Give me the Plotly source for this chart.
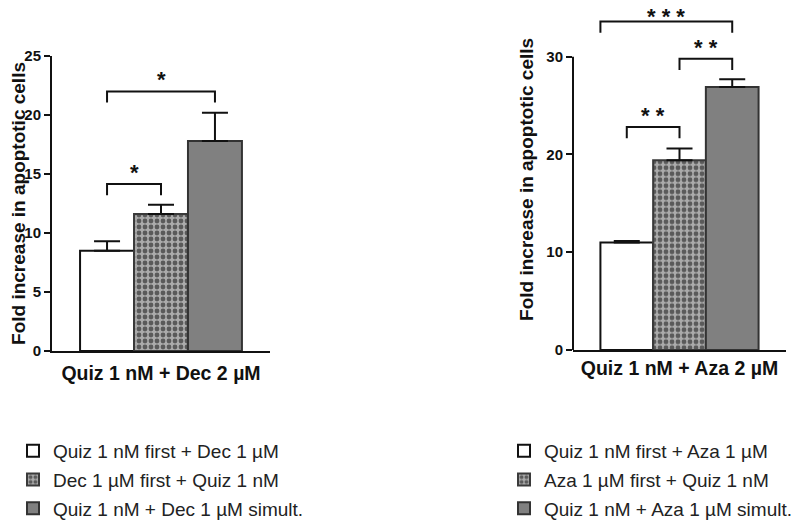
import plotly.graph_objects as go

# ---------------- data ----------------
left_names = ["Quiz 1 nM first + Dec 1 µM", "Dec 1 µM first + Quiz 1 nM", "Quiz 1 nM + Dec 1 µM simult."]
left_means = [8.5, 11.6, 17.8]
left_err = [0.8, 0.8, 2.4]
left_xtitle = "Quiz 1 nM + Dec 2 µM"
left_ticks = [0, 5, 10, 15, 20, 25]

right_names = ["Quiz 1 nM first + Aza 1 µM", "Aza 1 µM first + Quiz 1 nM", "Quiz 1 nM + Aza 1 µM simult."]
right_means = [11.0, 19.4, 26.9]
right_err = [0.15, 1.2, 0.8]
right_xtitle = "Quiz 1 nM + Aza 2 µM"
right_ticks = [0, 10, 20, 30]

ytitle = "Fold increase in apoptotic cells"
bar_pos = [1, 2, 3]

# brackets: (x_start, x_end, height, label, label offset above bracket)
left_brackets = [(1, 2, 14.15, "*", 1.0), (1, 3, 22.0, "*", 1.0)]
right_brackets = [(1, 2, 22.8, "* *", 1.15), (2, 3, 29.8, "* *", 1.15), (0.5, 3, 33.6, "* * *", 0.55)]

# ---------------- layout geometry ----------------
# page body has an 8px margin; figure is sized to fill the rest of the 800x521 window
OFF = 8
W, H = 800 - OFF, 521 - OFF
def px_x(p):
    return (p - OFF) / W
def px_y(p):
    return 1 - (p - OFF) / H

R_TOP = 34.9                 # right data axis extends above its drawn 0-30 line
R_SCALE = (350 - 56.7) / 30  # px per unit on the right chart

fills = ["white", "#9a9a9a", "#808080"]
lines = ["#111111", "#3a3a3a", "#333333"]

fig = go.Figure()

def add_bars(names, means, errs, xa, ya, legend):
    for i, (n, m, e) in enumerate(zip(names, means, errs)):
        marker = dict(color=fills[i], line=dict(color=lines[i], width=2))
        if i == 1:
            marker["pattern"] = dict(shape=".", fgcolor="#5a5a5a", bgcolor="#ababab",
                                     size=6, solidity=0.5, fillmode="replace")
        fig.add_trace(go.Bar(
            x=[bar_pos[i]], y=[m], width=1.0, name=n, marker=marker,
            error_y=dict(type="data", symmetric=False, array=[e], arrayminus=[0],
                         color="#111111", thickness=2, width=13),
            xaxis=xa, yaxis=ya, legend=legend, legendgroup=legend + str(i),
        ))

add_bars(left_names, left_means, left_err, "x", "y", "legend")
add_bars(right_names, right_means, right_err, "x2", "y2", "legend2")

def add_brackets(brackets, xref, yref, leg):
    for (x0, x1, h, lab, off) in brackets:
        fig.add_shape(type="path",
                      path=f"M {x0},{h-leg} L {x0},{h} L {x1},{h} L {x1},{h-leg}",
                      xref=xref, yref=yref, line=dict(color="#111111", width=2))
        fig.add_annotation(x=(x0 + x1) / 2, y=h + off, xref=xref, yref=yref,
                           text=lab, showarrow=False,
                           font=dict(family="Liberation Sans", size=22, color="#111111", weight="bold"))

add_brackets(left_brackets, "x", "y", 0.95)
add_brackets(right_brackets, "x2", "y2", 1.15)

# right axis line only up to 30
fig.add_shape(type="line", xref="x2 domain", yref="y2", x0=0, x1=0, y0=0, y1=30,
              line=dict(color="#111111", width=2))

tickfont = dict(family="Liberation Sans", size=15, color="#111111", weight="bold")
ytitlefont = dict(family="Liberation Sans", size=19, color="#111111", weight="bold")
xtitlefont = dict(family="Liberation Sans", size=19.5, color="#111111", weight="bold")
legfont = dict(family="Liberation Sans", size=19, color="#222222")

xcommon = dict(range=[-0.02, 4.02], showticklabels=False, ticks="", showgrid=False,
               zeroline=False, showline=True, linecolor="#111111", linewidth=2,
               fixedrange=True, automargin=False)
fig.update_layout(
    xaxis=dict(domain=[px_x(52), px_x(270)], anchor="y",
               title=dict(text=left_xtitle, font=xtitlefont, standoff=14), **xcommon),
    xaxis2=dict(domain=[px_x(573), px_x(786)], anchor="y2",
                title=dict(text=right_xtitle, font=xtitlefont, standoff=10), **xcommon),
    yaxis=dict(domain=[px_y(351), px_y(56)], anchor="x", range=[0, 25], automargin=False,
               tickvals=left_ticks, ticks="outside", ticklen=6, tickwidth=2, tickcolor="#111111",
               tickfont=tickfont, showgrid=False, zeroline=False, showline=True,
               linecolor="#111111", linewidth=2,
               title=dict(text=ytitle, font=ytitlefont, standoff=3)),
    yaxis2=dict(domain=[px_y(350), px_y(350 - R_TOP * R_SCALE)], anchor="x2", range=[0, R_TOP],
                automargin=False,
                tickvals=right_ticks, ticks="outside", ticklen=6, tickwidth=2, tickcolor="#111111",
                tickfont=tickfont, showgrid=False, zeroline=False, showline=False,
                title=dict(text=ytitle, font=ytitlefont, standoff=7)),
    legend=dict(x=px_x(13), y=px_y(432), xanchor="left", yanchor="top",
                traceorder="grouped", tracegroupgap=1, font=legfont,
                bgcolor="rgba(0,0,0,0)"),
    legend2=dict(x=px_x(504), y=px_y(432), xanchor="left", yanchor="top",
                 traceorder="grouped", tracegroupgap=1, font=legfont,
                 bgcolor="rgba(0,0,0,0)"),
    width=W, height=H, margin=dict(l=0, r=0, t=0, b=0, autoexpand=False),
    plot_bgcolor="white", paper_bgcolor="white", barmode="overlay", showlegend=True,
)

fig.write_html("out.html")
